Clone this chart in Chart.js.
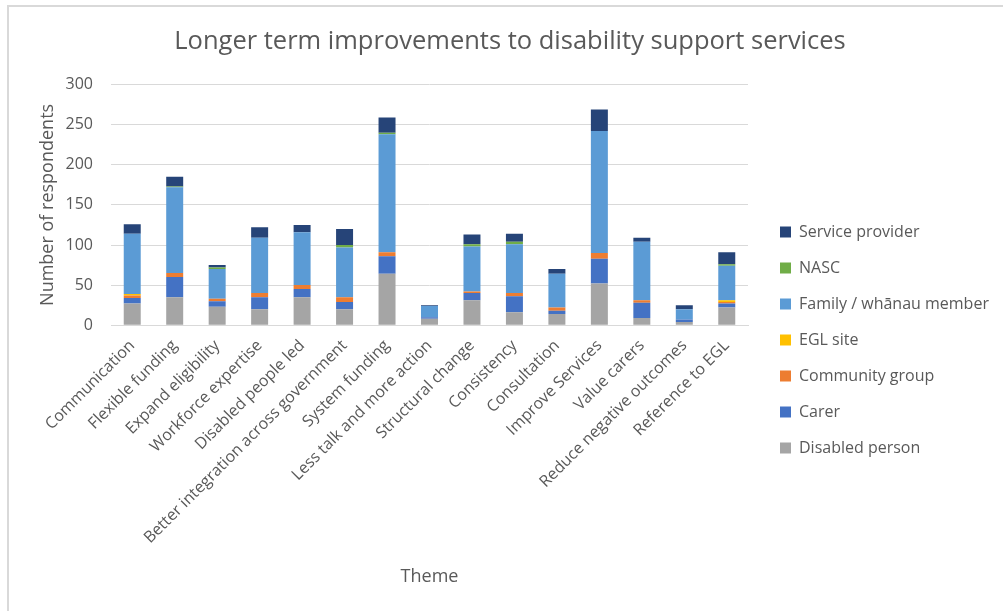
<!DOCTYPE html>
<html lang="en">
  <head>
    <meta charset="UTF-8" />
    <title>Longer term improvements to disability support services</title>
    <style>
      body {
        margin: 0;
        padding: 0;
        background: #ffffff;
        overflow: hidden;
      }
      .frame {
        position: absolute;
        left: 7px;
        top: 5px;
        width: 1100px;
        height: 700px;
        border: 2px solid #d9d9d9;
      }
      #themeChart {
        position: absolute;
        left: 0;
        top: 0;
      }
    </style>
    <script src="https://cdn.jsdelivr.net/npm/chart.js"></script>
  </head>
  <body>
    <div class="frame"></div>
    <canvas id="themeChart" width="1003" height="611"></canvas>
    <script>
      const themes = [
        "Communication",
        "Flexible funding",
        "Expand eligibility",
        "Workforce expertise",
        "Disabled people led",
        "Better integration across government",
        "System funding",
        "Less talk and more action",
        "Structural change",
        "Consistency",
        "Consultation",
        "Improve Services",
        "Value carers",
        "Reduce negative outcomes",
        "Reference to EGL",
      ];

      // stacked bottom to top
      const disabledPerson = [27, 35, 23, 20, 35, 20, 64, 8, 31, 16, 14, 52, 9, 4, 22];
      const carer = [7, 25, 7, 15, 10, 9, 22, 2, 9, 20, 4, 31, 19, 3, 5];
      const communityGroup = [3, 5, 3, 5, 5, 6, 5, 0, 2, 4, 4, 7, 3, 0, 2];
      const eglSite = [2, 0, 0, 0, 0, 0, 0, 0, 0, 0, 0, 0, 0, 0, 2];
      const familyWhanau = [75, 107, 37, 69, 66, 62, 147, 14, 56, 61, 42, 152, 73, 13, 43];
      const nasc = [0, 1, 2, 0, 0, 3, 2, 0, 3, 3, 0, 0, 0, 0, 2];
      const serviceProvider = [12, 12, 3, 13, 9, 20, 19, 1, 12, 10, 6, 27, 5, 5, 15];

      const yTicks = [0, 50, 100, 150, 200, 250, 300];

      const textColor = "#595959";
      Chart.defaults.font.family = "'Open Sans', 'Noto Sans', sans-serif";
      Chart.defaults.color = textColor;

      function series(label, values, color) {
        return {
          label: label,
          data: values,
          backgroundColor: color,
          borderWidth: 0,
          categoryPercentage: 1,
          barPercentage: 0.4,
        };
      }

      const data = {
        labels: themes,
        datasets: [
          series("Disabled person", disabledPerson, "#a5a5a5"),
          series("Carer", carer, "#4472c4"),
          series("Community group", communityGroup, "#ed7d31"),
          series("EGL site", eglSite, "#ffc000"),
          series("Family / whānau member", familyWhanau, "#5b9bd5"),
          series("NASC", nasc, "#70ad47"),
          series("Service provider", serviceProvider, "#264478"),
        ],
      };

      // nudge the legend column to where Excel puts it
      const legendPlacer = {
        id: "legendPlacer",
        beforeDraw(chart) {
          const lg = chart.legend;
          const dx = 780 - 20 - lg.left;
          const dy = 204 - lg.top;
          lg.left += dx;
          lg.right += dx;
          lg.top += dy;
          lg.bottom += dy;
        },
      };

      const config = {
        type: "bar",
        data: data,
        plugins: [legendPlacer],
        options: {
          responsive: false,
          animation: false,
          layout: { padding: { left: 34, right: 17, bottom: 23 } },
          plugins: {
            title: {
              display: true,
              text: "Longer term improvements to disability support services",
              color: textColor,
              font: { size: 25.5, weight: "normal" },
              padding: { top: 26, bottom: 28 },
            },
            legend: {
              position: "right",
              align: "start",
              reverse: true,
              labels: {
                boxWidth: 11,
                boxHeight: 11,
                padding: 20,
                color: textColor,
                font: { size: 16 },
              },
            },
            tooltip: { enabled: false },
          },
          scales: {
            x: {
              stacked: true,
              grid: { display: false },
              border: { display: true, color: "#d9d9d9" },
              ticks: {
                color: textColor,
                font: { size: 16 },
                minRotation: 45,
                maxRotation: 45,
                autoSkip: false,
              },
              title: {
                display: true,
                text: "Theme",
                color: textColor,
                font: { size: 18 },
                padding: { top: 16, bottom: 0 },
              },
            },
            y: {
              stacked: true,
              min: 0,
              max: 300,
              afterBuildTicks: (axis) => {
                axis.ticks = yTicks.map((v) => ({ value: v }));
              },
              afterFit: (axis) => {
                axis.width = 77;
              },
              grid: { color: "#d9d9d9", drawTicks: false },
              border: { display: false },
              ticks: {
                color: textColor,
                font: { size: 16 },
                padding: 18,
              },
              title: {
                display: true,
                text: "Number of respondents",
                color: textColor,
                font: { size: 18 },
                padding: { top: 3, bottom: 0 },
              },
            },
          },
        },
      };

      const themeChart = new Chart(document.getElementById("themeChart"), config);
    </script>
  </body>
</html>
